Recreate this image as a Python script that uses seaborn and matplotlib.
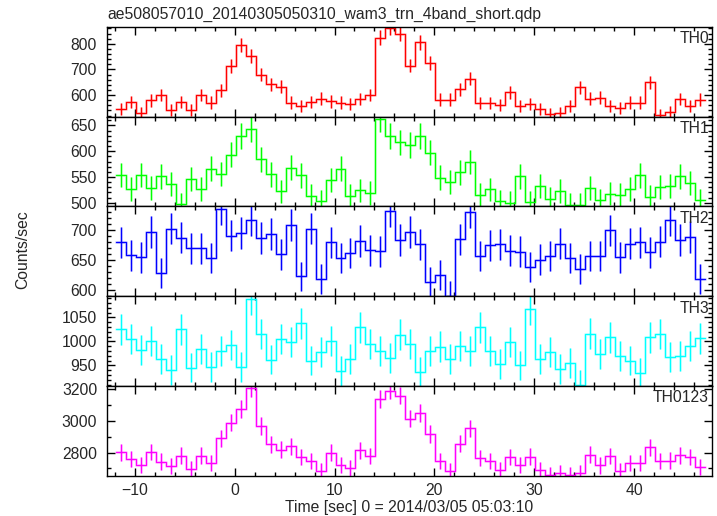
import numpy as np
import pandas as pd
import matplotlib
matplotlib.use("Agg")
import matplotlib.pyplot as plt
from matplotlib.ticker import MultipleLocator
import seaborn as sns

# ---- data (1-s bins, bin centres in seconds) ----
time = np.arange(59) * 1.0 - 11.4

th0 = [546, 573, 532, 579, 600, 540, 573, 540, 601, 571,
       618, 712, 796, 751, 680, 642, 633, 571, 559, 573,
       586, 575, 571, 565, 584, 601, 824, 862, 840, 715,
       805, 725, 582, 582, 622, 664, 568, 568, 562, 611,
       559, 566, 544, 525, 532, 559, 630, 586, 590, 556,
       550, 571, 571, 650, 522, 535, 584, 558, 582]
th1 = [554, 527, 554, 529, 551, 537, 497, 546, 527, 566,
       556, 593, 630, 643, 584, 555, 522, 568, 553, 513,
       503, 544, 566, 513, 524, 519, 662, 629, 617, 612,
       630, 597, 549, 541, 559, 579, 516, 526, 503, 500,
       551, 501, 533, 508, 523, 496, 496, 529, 505, 518,
       516, 527, 553, 512, 531, 533, 551, 538, 505]
th2 = [679, 657, 654, 696, 628, 702, 687, 669, 669, 653,
       735, 690, 695, 717, 686, 693, 659, 708, 622, 702,
       618, 679, 653, 661, 681, 666, 664, 731, 683, 696,
       676, 613, 625, 590, 684, 730, 656, 674, 676, 665,
       663, 638, 650, 656, 677, 653, 635, 656, 656, 699,
       654, 677, 679, 662, 680, 716, 683, 688, 618]
th3 = [1025, 1005, 982, 1001, 964, 940, 1025, 945, 984, 947,
       980, 993, 947, 1088, 1015, 962, 1005, 998, 1038, 960,
       977, 1001, 938, 964, 1029, 995, 979, 966, 1014, 994,
       936, 979, 989, 964, 991, 979, 1029, 980, 953, 998,
       950, 1067, 964, 977, 942, 955, 910, 1016, 974, 1008,
       969, 960, 934, 1008, 1015, 967, 969, 990, 1006]
th0123 = [2802, 2758, 2720, 2804, 2743, 2714, 2781, 2695, 2781, 2735,
          2891, 2989, 3074, 3206, 2968, 2853, 2817, 2840, 2771, 2745,
          2682, 2798, 2722, 2701, 2815, 2777, 3137, 3192, 3160, 3015,
          3049, 2917, 2747, 2681, 2855, 2953, 2766, 2747, 2687, 2772,
          2721, 2774, 2687, 2657, 2668, 2657, 2672, 2787, 2719, 2779,
          2685, 2734, 2734, 2834, 2747, 2749, 2783, 2772, 2708]

bands = ["TH0", "TH1", "TH2", "TH3", "TH0123"]
series = [th0, th1, th2, th3, th0123]
colors = ["#ff0000", "#00ff00", "#0000ff", "#00ffff", "#ff00ff"]
ylims = [(516, 866), (493, 667), (589, 739), (907, 1094), (2653, 3221)]
ymajor = [100, 50, 50, 50, 200]
yminor = [20, 10, 10, 10, 100]

title = "ae508057010_20140305050310_wam3_trn_4band_short.qdp"
xlabel = "Time [sec] 0 = 2014/03/05 05:03:10"
ylabel = "Counts/sec"

# ---- style ----
sns.set_theme(style="ticks")
plt.rcParams["font.family"] = ["Liberation Sans", "DejaVu Sans"]
plt.rcParams["font.size"] = 11.3
plt.rcParams["axes.linewidth"] = 1.0

FS = 11.3

fig = plt.figure(figsize=(7.17, 5.16), dpi=100)
axes = fig.subplots(5, 1, sharex=True, gridspec_kw=dict(hspace=0))
fig.subplots_adjust(left=0.149, right=0.993, top=0.948, bottom=0.078)

edges = np.append(time - 0.5, time[-1] + 0.5)

for ax, name, vals, col, yl, ymj, ymn in zip(axes, bands, series, colors, ylims, ymajor, yminor):
    vals = np.asarray(vals, dtype=float)
    step_df = pd.DataFrame({"edge": edges, "rate": np.append(vals, vals[-1])})
    err = np.sqrt(vals)  # Poisson errors of the 1-s count rates
    # soft halo underneath, then crisp line
    sns.lineplot(data=step_df, x="edge", y="rate", drawstyle="steps-post",
                 estimator=None, sort=False, color=col, linewidth=2.2, alpha=0.18, ax=ax)
    ax.errorbar(time, vals, yerr=err, fmt="none", ecolor=col, elinewidth=2.2, alpha=0.18)
    sns.lineplot(data=step_df, x="edge", y="rate", drawstyle="steps-post",
                 estimator=None, sort=False, color=col, linewidth=0.9, ax=ax)
    ax.errorbar(time, vals, yerr=err, fmt="none", ecolor=col, elinewidth=0.9)
    ax.set_ylim(*yl)
    ax.set_xlim(-12.8, 47.8)
    ax.set_xlabel("")
    ax.set_ylabel("")
    ax.yaxis.set_major_locator(MultipleLocator(ymj))
    ax.yaxis.set_minor_locator(MultipleLocator(ymn))
    ax.xaxis.set_major_locator(MultipleLocator(10))
    ax.xaxis.set_minor_locator(MultipleLocator(2))
    ax.tick_params(which="both", direction="in", top=True, right=True, labelsize=FS,
                   color="black", width=1.0)
    ax.tick_params(which="major", length=6)
    ax.tick_params(which="minor", length=3)
    ax.tick_params(axis="y", pad=7)
    ax.tick_params(axis="x", pad=5)
    for sp in ax.spines.values():
        sp.set_color("black")
    ax.text(0.995, 0.95, name, transform=ax.transAxes, ha="right", va="top", fontsize=FS)

axes[-1].set_xlabel(xlabel, fontsize=FS, labelpad=2)
fig.text(107 / 717, 1 - 14 / 516, title, ha="left", va="center", fontsize=FS)
fig.text(23 / 717, 1 - 250 / 516, ylabel, ha="center", va="center", rotation=90, fontsize=FS)

fig.savefig("out.png", dpi=100)
